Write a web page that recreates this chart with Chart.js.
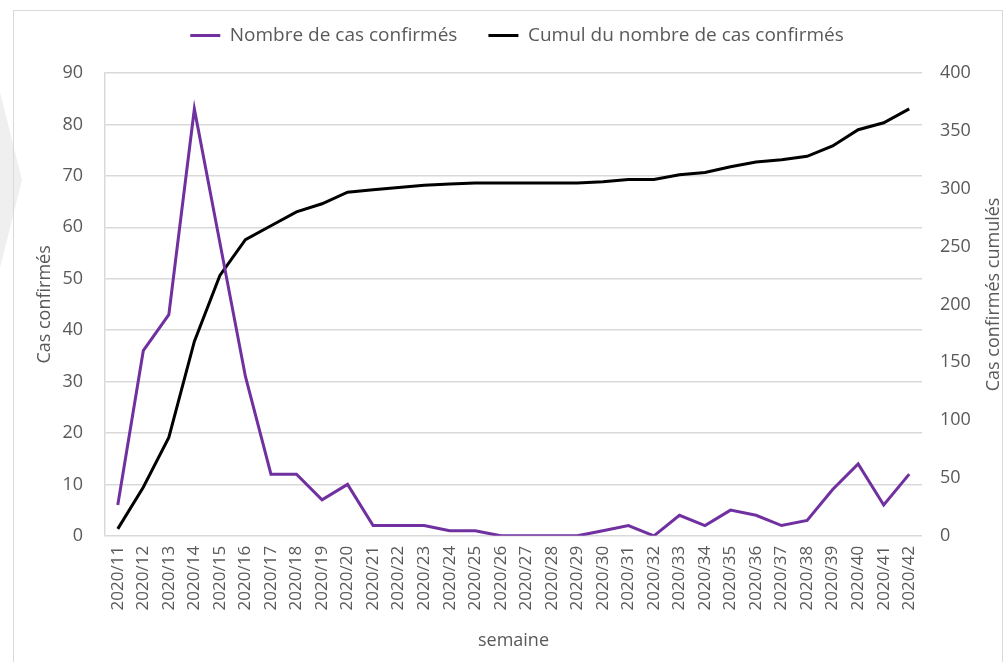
<!DOCTYPE html>
<html>
<head>
<meta charset="utf-8">
<script src="https://cdn.jsdelivr.net/npm/chart.js@4.4.1/dist/chart.umd.min.js"></script>
<style>
  html, body { margin: 0; padding: 0; background: #ffffff; }
  #wrap { position: relative; width: 1008px; height: 662px; overflow: hidden; }
  #chev { position: absolute; left: 0; top: 92px; width: 22px; height: 176px; background: #efefef;
          clip-path: polygon(0 0, 100% 50%, 0 100%); }
  #frame { position: absolute; left: 13px; top: 10px; width: 990px; height: 680px; border: 1px solid #d9d9d9; box-sizing: border-box; }
  #cv { position: absolute; left: 0; top: 0; }
</style>
</head>
<body>
<div id="wrap">
  <div id="chev"></div>
  <div id="frame"></div>
  <canvas id="cv" width="1008" height="662"></canvas>
</div>
<script>
const weeks = ["2020/11","2020/12","2020/13","2020/14","2020/15","2020/16","2020/17","2020/18","2020/19","2020/20",
  "2020/21","2020/22","2020/23","2020/24","2020/25","2020/26","2020/27","2020/28","2020/29","2020/30",
  "2020/31","2020/32","2020/33","2020/34","2020/35","2020/36","2020/37","2020/38","2020/39","2020/40",
  "2020/41","2020/42"];
const confirmedCases = [6,36,43,83,57,31,12,12,7,10,2,2,2,1,1,0,0,0,0,1,2,0,4,2,5,4,2,3,9,14,6,12];
const cumulativeCases = [6,42,85,168,225,256,268,280,287,297,299,301,303,304,305,305,305,305,305,306,308,308,312,314,319,323,325,328,337,351,357,369];
const seriesNames = ["Nombre de cas confirmés", "Cumul du nombre de cas confirmés"];
const axisTitles = { x: "semaine", left: "Cas confirmés", right: "Cas confirmés cumulés" };

const FONT = "'Open Sans', sans-serif";
const TXT = "#595959";

const legendGap = {
  id: "legendGap",
  beforeInit(chart) {
    const fit = chart.legend.fit;
    chart.legend.fit = function () { fit.bind(this)(); this.height += 18; };
  }
};

const rightTitle = {
  id: "rightTitle",
  afterDraw(chart) {
    const ctx = chart.ctx;
    const a = chart.chartArea;
    ctx.save();
    ctx.translate(994, (a.top + a.bottom) / 2 - 10);
    ctx.rotate(-Math.PI / 2);
    ctx.fillStyle = TXT;
    ctx.font = "18px " + FONT;
    ctx.textAlign = "center";
    ctx.textBaseline = "middle";
    ctx.fillText(axisTitles.right, 0, 0);
    ctx.restore();
  }
};

new Chart(document.getElementById("cv"), {
  type: "line",
  data: {
    labels: weeks,
    datasets: [
      { label: seriesNames[0], data: confirmedCases, yAxisID: "y", borderColor: "#7030A0", backgroundColor: "#7030A0",
        borderWidth: 3, pointRadius: 0, tension: 0 },
      { label: seriesNames[1], data: cumulativeCases, yAxisID: "y2", borderColor: "#000000", backgroundColor: "#000000",
        borderWidth: 3, pointRadius: 0, tension: 0 }
    ]
  },
  options: {
    responsive: false,
    animation: false,
    layout: { padding: { left: 26, right: 0, top: -5, bottom: 10 } },
    plugins: {
      legend: {
        position: "top",
        labels: { usePointStyle: true, pointStyle: "line", pointStyleWidth: 30, color: TXT,
                  font: { family: FONT, size: 19 }, padding: 31, boxHeight: 19 }
      },
      tooltip: { enabled: false }
    },
    scales: {
      x: {
        offset: true,
        grid: { display: false, drawTicks: false },
        border: { display: false },
        ticks: { color: TXT, font: { family: FONT, size: 17 }, maxRotation: 90, minRotation: 90, padding: 10, autoSkip: false },
        title: { display: true, text: axisTitles.x, color: TXT, font: { family: FONT, size: 18 }, padding: { top: 10, bottom: 0 } }
      },
      y: {
        position: "left", min: 0, max: 90,
        afterFit(scale) { scale.width = 79; },
        ticks: { stepSize: 10, color: TXT, font: { family: FONT, size: 18 }, padding: 22 },
        grid: { color: "#d9d9d9", lineWidth: 1.5, drawTicks: false },
        border: { display: true, color: "#d9d9d9", width: 1.5 },
        title: { display: true, text: axisTitles.left, color: TXT, font: { family: FONT, size: 18 }, padding: { top: 8, bottom: 0 } }
      },
      y2: {
        position: "right", min: 0, max: 400,
        afterFit(scale) { scale.width = 86; },
        ticks: { stepSize: 50, color: TXT, font: { family: FONT, size: 18 }, padding: 18 },
        grid: { display: false, drawTicks: false },
        border: { display: false },
        title: { display: false }
      }
    }
  },
  plugins: [legendGap, rightTitle]
});
</script>
</body>
</html>
